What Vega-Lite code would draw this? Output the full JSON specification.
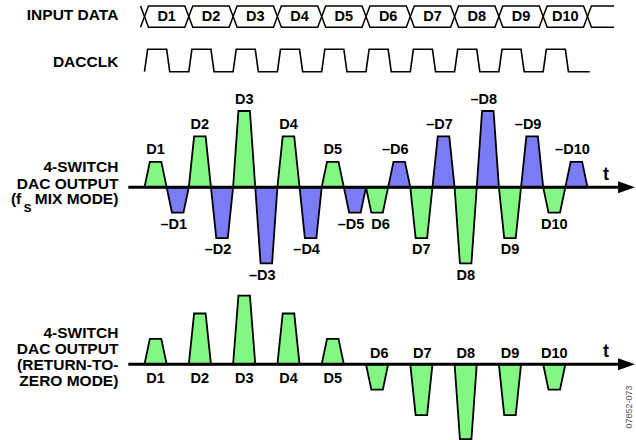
{
  "$schema": "https://vega.github.io/schema/vega-lite/v6.json",
  "width": 636,
  "height": 440,
  "autosize": {"type": "none"},
  "padding": 0,
  "background": "white",
  "config": {
    "view": {"stroke": null},
    "text": {"font": "Liberation Sans", "fontWeight": "bold", "fontSize": 14.5, "color": "black", "baseline": "middle"}
  },
  "datasets": {
    "bus": [
      {"id":"s","o":0,"t":-0.09,"v":1},{"id":"s","o":1,"t":0,"v":0.5},{"id":"s","o":2,"t":-0.09,"v":0},
      {"id":"D1","o":0,"t":0,"v":0.5},{"id":"D1","o":1,"t":0.09,"v":1},{"id":"D1","o":2,"t":0.91,"v":1},{"id":"D1","o":3,"t":1,"v":0.5},{"id":"D1","o":4,"t":0.91,"v":0},{"id":"D1","o":5,"t":0.09,"v":0},{"id":"D1","o":6,"t":0,"v":0.5},
      {"id":"D2","o":0,"t":1,"v":0.5},{"id":"D2","o":1,"t":1.09,"v":1},{"id":"D2","o":2,"t":1.91,"v":1},{"id":"D2","o":3,"t":2,"v":0.5},{"id":"D2","o":4,"t":1.91,"v":0},{"id":"D2","o":5,"t":1.09,"v":0},{"id":"D2","o":6,"t":1,"v":0.5},
      {"id":"D3","o":0,"t":2,"v":0.5},{"id":"D3","o":1,"t":2.09,"v":1},{"id":"D3","o":2,"t":2.91,"v":1},{"id":"D3","o":3,"t":3,"v":0.5},{"id":"D3","o":4,"t":2.91,"v":0},{"id":"D3","o":5,"t":2.09,"v":0},{"id":"D3","o":6,"t":2,"v":0.5},
      {"id":"D4","o":0,"t":3,"v":0.5},{"id":"D4","o":1,"t":3.09,"v":1},{"id":"D4","o":2,"t":3.91,"v":1},{"id":"D4","o":3,"t":4,"v":0.5},{"id":"D4","o":4,"t":3.91,"v":0},{"id":"D4","o":5,"t":3.09,"v":0},{"id":"D4","o":6,"t":3,"v":0.5},
      {"id":"D5","o":0,"t":4,"v":0.5},{"id":"D5","o":1,"t":4.09,"v":1},{"id":"D5","o":2,"t":4.91,"v":1},{"id":"D5","o":3,"t":5,"v":0.5},{"id":"D5","o":4,"t":4.91,"v":0},{"id":"D5","o":5,"t":4.09,"v":0},{"id":"D5","o":6,"t":4,"v":0.5},
      {"id":"D6","o":0,"t":5,"v":0.5},{"id":"D6","o":1,"t":5.09,"v":1},{"id":"D6","o":2,"t":5.91,"v":1},{"id":"D6","o":3,"t":6,"v":0.5},{"id":"D6","o":4,"t":5.91,"v":0},{"id":"D6","o":5,"t":5.09,"v":0},{"id":"D6","o":6,"t":5,"v":0.5},
      {"id":"D7","o":0,"t":6,"v":0.5},{"id":"D7","o":1,"t":6.09,"v":1},{"id":"D7","o":2,"t":6.91,"v":1},{"id":"D7","o":3,"t":7,"v":0.5},{"id":"D7","o":4,"t":6.91,"v":0},{"id":"D7","o":5,"t":6.09,"v":0},{"id":"D7","o":6,"t":6,"v":0.5},
      {"id":"D8","o":0,"t":7,"v":0.5},{"id":"D8","o":1,"t":7.09,"v":1},{"id":"D8","o":2,"t":7.91,"v":1},{"id":"D8","o":3,"t":8,"v":0.5},{"id":"D8","o":4,"t":7.91,"v":0},{"id":"D8","o":5,"t":7.09,"v":0},{"id":"D8","o":6,"t":7,"v":0.5},
      {"id":"D9","o":0,"t":8,"v":0.5},{"id":"D9","o":1,"t":8.09,"v":1},{"id":"D9","o":2,"t":8.91,"v":1},{"id":"D9","o":3,"t":9,"v":0.5},{"id":"D9","o":4,"t":8.91,"v":0},{"id":"D9","o":5,"t":8.09,"v":0},{"id":"D9","o":6,"t":8,"v":0.5},
      {"id":"D10","o":0,"t":9,"v":0.5},{"id":"D10","o":1,"t":9.09,"v":1},{"id":"D10","o":2,"t":9.91,"v":1},{"id":"D10","o":3,"t":10,"v":0.5},{"id":"D10","o":4,"t":9.91,"v":0},{"id":"D10","o":5,"t":9.09,"v":0},{"id":"D10","o":6,"t":9,"v":0.5},
      {"id":"e","o":0,"t":10.6,"v":1},{"id":"e","o":1,"t":10.09,"v":1},{"id":"e","o":2,"t":10,"v":0.5},{"id":"e","o":3,"t":10.09,"v":0},{"id":"e","o":4,"t":10.6,"v":0}
    ],
    "busLab": [
      {"t":0.5,"v":0.5,"label":"D1"},{"t":1.5,"v":0.5,"label":"D2"},{"t":2.5,"v":0.5,"label":"D3"},{"t":3.5,"v":0.5,"label":"D4"},{"t":4.5,"v":0.5,"label":"D5"},
      {"t":5.5,"v":0.5,"label":"D6"},{"t":6.5,"v":0.5,"label":"D7"},{"t":7.5,"v":0.5,"label":"D8"},{"t":8.5,"v":0.5,"label":"D9"},{"t":9.5,"v":0.5,"label":"D10"}
    ],
    "clock": [
      {"t":0,"v":0},{"t":0.07,"v":1},{"t":0.5,"v":1},{"t":0.57,"v":0},
      {"t":1,"v":0},{"t":1.07,"v":1},{"t":1.5,"v":1},{"t":1.57,"v":0},
      {"t":2,"v":0},{"t":2.07,"v":1},{"t":2.5,"v":1},{"t":2.57,"v":0},
      {"t":3,"v":0},{"t":3.07,"v":1},{"t":3.5,"v":1},{"t":3.57,"v":0},
      {"t":4,"v":0},{"t":4.07,"v":1},{"t":4.5,"v":1},{"t":4.57,"v":0},
      {"t":5,"v":0},{"t":5.07,"v":1},{"t":5.5,"v":1},{"t":5.57,"v":0},
      {"t":6,"v":0},{"t":6.07,"v":1},{"t":6.5,"v":1},{"t":6.57,"v":0},
      {"t":7,"v":0},{"t":7.07,"v":1},{"t":7.5,"v":1},{"t":7.57,"v":0},
      {"t":8,"v":0},{"t":8.07,"v":1},{"t":8.5,"v":1},{"t":8.57,"v":0},
      {"t":9,"v":0},{"t":9.07,"v":1},{"t":9.5,"v":1},{"t":9.57,"v":0},
      {"t":10.05,"v":0}
    ],
    "mix": [
      {"id":"g1","ph":"p","t":0,"v":0},{"id":"g1","ph":"p","t":0.12,"v":1},{"id":"g1","ph":"p","t":0.38,"v":1},{"id":"g1","ph":"p","t":0.5,"v":0},
      {"id":"b1","ph":"n","t":0.5,"v":0},{"id":"b1","ph":"n","t":0.62,"v":-1},{"id":"b1","ph":"n","t":0.88,"v":-1},{"id":"b1","ph":"n","t":1,"v":0},
      {"id":"g2","ph":"p","t":1,"v":0},{"id":"g2","ph":"p","t":1.12,"v":2},{"id":"g2","ph":"p","t":1.38,"v":2},{"id":"g2","ph":"p","t":1.5,"v":0},
      {"id":"b2","ph":"n","t":1.5,"v":0},{"id":"b2","ph":"n","t":1.62,"v":-2},{"id":"b2","ph":"n","t":1.88,"v":-2},{"id":"b2","ph":"n","t":2,"v":0},
      {"id":"g3","ph":"p","t":2,"v":0},{"id":"g3","ph":"p","t":2.12,"v":3},{"id":"g3","ph":"p","t":2.38,"v":3},{"id":"g3","ph":"p","t":2.5,"v":0},
      {"id":"b3","ph":"n","t":2.5,"v":0},{"id":"b3","ph":"n","t":2.62,"v":-3},{"id":"b3","ph":"n","t":2.88,"v":-3},{"id":"b3","ph":"n","t":3,"v":0},
      {"id":"g4","ph":"p","t":3,"v":0},{"id":"g4","ph":"p","t":3.12,"v":2},{"id":"g4","ph":"p","t":3.38,"v":2},{"id":"g4","ph":"p","t":3.5,"v":0},
      {"id":"b4","ph":"n","t":3.5,"v":0},{"id":"b4","ph":"n","t":3.62,"v":-2},{"id":"b4","ph":"n","t":3.88,"v":-2},{"id":"b4","ph":"n","t":4,"v":0},
      {"id":"g5","ph":"p","t":4,"v":0},{"id":"g5","ph":"p","t":4.12,"v":1},{"id":"g5","ph":"p","t":4.38,"v":1},{"id":"g5","ph":"p","t":4.5,"v":0},
      {"id":"b5","ph":"n","t":4.5,"v":0},{"id":"b5","ph":"n","t":4.62,"v":-1},{"id":"b5","ph":"n","t":4.88,"v":-1},{"id":"b5","ph":"n","t":5,"v":0},
      {"id":"g6","ph":"p","t":5,"v":0},{"id":"g6","ph":"p","t":5.12,"v":-1},{"id":"g6","ph":"p","t":5.38,"v":-1},{"id":"g6","ph":"p","t":5.5,"v":0},
      {"id":"b6","ph":"n","t":5.5,"v":0},{"id":"b6","ph":"n","t":5.62,"v":1},{"id":"b6","ph":"n","t":5.88,"v":1},{"id":"b6","ph":"n","t":6,"v":0},
      {"id":"g7","ph":"p","t":6,"v":0},{"id":"g7","ph":"p","t":6.12,"v":-2},{"id":"g7","ph":"p","t":6.38,"v":-2},{"id":"g7","ph":"p","t":6.5,"v":0},
      {"id":"b7","ph":"n","t":6.5,"v":0},{"id":"b7","ph":"n","t":6.62,"v":2},{"id":"b7","ph":"n","t":6.88,"v":2},{"id":"b7","ph":"n","t":7,"v":0},
      {"id":"g8","ph":"p","t":7,"v":0},{"id":"g8","ph":"p","t":7.12,"v":-3},{"id":"g8","ph":"p","t":7.38,"v":-3},{"id":"g8","ph":"p","t":7.5,"v":0},
      {"id":"b8","ph":"n","t":7.5,"v":0},{"id":"b8","ph":"n","t":7.62,"v":3},{"id":"b8","ph":"n","t":7.88,"v":3},{"id":"b8","ph":"n","t":8,"v":0},
      {"id":"g9","ph":"p","t":8,"v":0},{"id":"g9","ph":"p","t":8.12,"v":-2},{"id":"g9","ph":"p","t":8.38,"v":-2},{"id":"g9","ph":"p","t":8.5,"v":0},
      {"id":"b9","ph":"n","t":8.5,"v":0},{"id":"b9","ph":"n","t":8.62,"v":2},{"id":"b9","ph":"n","t":8.88,"v":2},{"id":"b9","ph":"n","t":9,"v":0},
      {"id":"g10","ph":"p","t":9,"v":0},{"id":"g10","ph":"p","t":9.12,"v":-1},{"id":"g10","ph":"p","t":9.38,"v":-1},{"id":"g10","ph":"p","t":9.5,"v":0},
      {"id":"b10","ph":"n","t":9.5,"v":0},{"id":"b10","ph":"n","t":9.62,"v":1},{"id":"b10","ph":"n","t":9.88,"v":1},{"id":"b10","ph":"n","t":10,"v":0}
    ],
    "mixLab": [
      {"kind":"p","t":0.25,"v":1.45,"label":"D1"},{"kind":"p","t":1.25,"v":2.45,"label":"D2"},{"kind":"p","t":2.25,"v":3.45,"label":"D3"},{"kind":"p","t":3.25,"v":2.45,"label":"D4"},{"kind":"p","t":4.25,"v":1.45,"label":"D5"},
      {"kind":"p","t":5.33,"v":-1.49,"label":"D6"},{"kind":"p","t":6.25,"v":-2.49,"label":"D7"},{"kind":"p","t":7.25,"v":-3.49,"label":"D8"},{"kind":"p","t":8.25,"v":-2.49,"label":"D9"},{"kind":"p","t":9.25,"v":-1.49,"label":"D10"},
      {"kind":"d","t":0.75,"v":-1.49,"label":"–D1"},{"kind":"d","t":1.75,"v":-2.49,"label":"–D2"},{"kind":"d","t":2.75,"v":-3.49,"label":"–D3"},{"kind":"d","t":3.75,"v":-2.49,"label":"–D4"},{"kind":"d","t":4.75,"v":-1.49,"label":"–D5"},
      {"kind":"d","t":5.75,"v":1.45,"label":"–D6"},{"kind":"d","t":6.75,"v":2.45,"label":"–D7"},{"kind":"d","t":7.75,"v":3.45,"label":"–D8"},{"kind":"d","t":8.75,"v":2.45,"label":"–D9"},{"kind":"d","t":9.75,"v":1.45,"label":"–D10"}
    ],
    "rtz": [
      {"id":"r1","t":0,"v":0},{"id":"r1","t":0.12,"v":1},{"id":"r1","t":0.38,"v":1},{"id":"r1","t":0.5,"v":0},
      {"id":"r2","t":1,"v":0},{"id":"r2","t":1.12,"v":2},{"id":"r2","t":1.38,"v":2},{"id":"r2","t":1.5,"v":0},
      {"id":"r3","t":2,"v":0},{"id":"r3","t":2.12,"v":2.7},{"id":"r3","t":2.38,"v":2.7},{"id":"r3","t":2.5,"v":0},
      {"id":"r4","t":3,"v":0},{"id":"r4","t":3.12,"v":2},{"id":"r4","t":3.38,"v":2},{"id":"r4","t":3.5,"v":0},
      {"id":"r5","t":4,"v":0},{"id":"r5","t":4.12,"v":1},{"id":"r5","t":4.38,"v":1},{"id":"r5","t":4.5,"v":0},
      {"id":"r6","t":5,"v":0},{"id":"r6","t":5.12,"v":-1},{"id":"r6","t":5.38,"v":-1},{"id":"r6","t":5.5,"v":0},
      {"id":"r7","t":6,"v":0},{"id":"r7","t":6.12,"v":-2},{"id":"r7","t":6.38,"v":-2},{"id":"r7","t":6.5,"v":0},
      {"id":"r8","t":7,"v":0},{"id":"r8","t":7.12,"v":-2.95},{"id":"r8","t":7.38,"v":-2.95},{"id":"r8","t":7.5,"v":0},
      {"id":"r9","t":8,"v":0},{"id":"r9","t":8.12,"v":-2},{"id":"r9","t":8.38,"v":-2},{"id":"r9","t":8.5,"v":0},
      {"id":"r10","t":9,"v":0},{"id":"r10","t":9.12,"v":-1},{"id":"r10","t":9.38,"v":-1},{"id":"r10","t":9.5,"v":0}
    ],
    "rtzLab": [
      {"t":0.25,"v":-0.59,"label":"D1"},{"t":1.25,"v":-0.59,"label":"D2"},{"t":2.25,"v":-0.59,"label":"D3"},{"t":3.25,"v":-0.59,"label":"D4"},{"t":4.25,"v":-0.59,"label":"D5"},
      {"t":5.3,"v":0.4,"label":"D6"},{"t":6.27,"v":0.4,"label":"D7"},{"t":7.25,"v":0.4,"label":"D8"},{"t":8.25,"v":0.4,"label":"D9"},{"t":9.25,"v":0.4,"label":"D10"}
    ],
    "baseLine": [{"t":-0.366,"v":0},{"t":10.7,"v":0}],
    "arrow": [{"t":10.69,"hi":0.236,"lo":-0.236},{"t":11.07,"hi":0,"lo":0}],
    "tLab": [{"t":10.42,"v":0.5,"label":"t"}],
    "titles": [
      {"row":"bus","t":-0.59,"v":0.58,"label":"INPUT DATA"},
      {"row":"clock","t":-0.59,"v":0.45,"label":"DACCLK"},
      {"row":"mix","t":-0.59,"v":0.78,"label":"4-SWITCH"},
      {"row":"mix","t":-0.59,"v":0.13,"label":"DAC OUTPUT"},
      {"row":"mix","t":-0.59,"v":-0.48,"label":"MIX MODE)"},
      {"row":"rtz","t":-0.59,"v":1.24,"label":"4-SWITCH"},
      {"row":"rtz","t":-0.59,"v":0.62,"label":"DAC OUTPUT"},
      {"row":"rtz","t":-0.59,"v":-0.01,"label":"(RETURN-TO-"},
      {"row":"rtz","t":-0.59,"v":-0.66,"label":"ZERO MODE)"}
    ],
    "fs": [
      {"part":"f","t":-2.9,"v":-0.48,"label":"(f"},
      {"part":"s","t":-2.641,"v":-0.845,"label":"S"}
    ],
    "code": [{"t":10.93,"v":-1.68,"label":"07852-073"}]
  },
  "resolve": {"scale": {"y": "independent"}},
  "layer": [
    {
      "layer": [
        {
          "data": {"name": "bus"},
          "mark": {"type": "line", "color": "black", "strokeWidth": 1.5},
          "encoding": {
            "x": {"field": "t", "type": "quantitative", "scale": {"domain": [-3.262, 11.095], "nice": false, "zero": false}, "axis": null},
            "y": {"field": "v", "type": "quantitative", "scale": {"domain": [-19.38, 1.28], "nice": false, "zero": false}, "axis": null},
            "detail": {"field": "id"},
            "order": {"field": "o"}
          }
        },
        {
          "data": {"name": "busLab"},
          "mark": {"type": "text", "align": "center"},
          "encoding": {
            "x": {"field": "t", "type": "quantitative", "scale": {"domain": [-3.262, 11.095], "nice": false, "zero": false}, "axis": null},
            "y": {"field": "v", "type": "quantitative", "scale": {"domain": [-19.38, 1.28], "nice": false, "zero": false}, "axis": null},
            "text": {"field": "label"}
          }
        },
        {
          "data": {"name": "titles"},
          "transform": [{"filter": "datum.row === 'bus'"}],
          "mark": {"type": "text", "align": "right", "fontSize": 15.5},
          "encoding": {
            "x": {"field": "t", "type": "quantitative", "scale": {"domain": [-3.262, 11.095], "nice": false, "zero": false}, "axis": null},
            "y": {"field": "v", "type": "quantitative", "scale": {"domain": [-19.38, 1.28], "nice": false, "zero": false}, "axis": null},
            "text": {"field": "label"}
          }
        }
      ]
    },
    {
      "layer": [
        {
          "data": {"name": "clock"},
          "mark": {"type": "line", "color": "black", "strokeWidth": 1.6},
          "encoding": {
            "x": {"field": "t", "type": "quantitative", "scale": {"domain": [-3.262, 11.095], "nice": false, "zero": false}, "axis": null},
            "y": {"field": "v", "type": "quantitative", "scale": {"domain": [-16.44, 3.2], "nice": false, "zero": false}, "axis": null}
          }
        },
        {
          "data": {"name": "titles"},
          "transform": [{"filter": "datum.row === 'clock'"}],
          "mark": {"type": "text", "align": "right", "fontSize": 15.5},
          "encoding": {
            "x": {"field": "t", "type": "quantitative", "scale": {"domain": [-3.262, 11.095], "nice": false, "zero": false}, "axis": null},
            "y": {"field": "v", "type": "quantitative", "scale": {"domain": [-16.44, 3.2], "nice": false, "zero": false}, "axis": null},
            "text": {"field": "label"}
          }
        }
      ]
    },
    {
      "layer": [
        {
          "data": {"name": "mix"},
          "mark": {"type": "area", "stroke": "black", "strokeWidth": 1.8, "fillOpacity": 1, "strokeJoin": "miter"},
          "encoding": {
            "x": {"field": "t", "type": "quantitative", "scale": {"domain": [-3.262, 11.095], "nice": false, "zero": false}, "axis": null},
            "y": {"field": "v", "type": "quantitative", "stack": null, "scale": {"domain": [-9.95, 7.37], "nice": false, "zero": false}, "axis": null},
            "y2": {"datum": 0},
            "detail": {"field": "id"},
            "fill": {"field": "ph", "type": "nominal", "scale": {"domain": ["p", "n"], "range": ["#82f882", "#7b7bf6"]}, "legend": null}
          }
        },
        {
          "data": {"name": "baseLine"},
          "mark": {"type": "line", "color": "black", "strokeWidth": 3},
          "encoding": {
            "x": {"field": "t", "type": "quantitative", "scale": {"domain": [-3.262, 11.095], "nice": false, "zero": false}, "axis": null},
            "y": {"field": "v", "type": "quantitative", "scale": {"domain": [-9.95, 7.37], "nice": false, "zero": false}, "axis": null}
          }
        },
        {
          "data": {"name": "arrow"},
          "mark": {"type": "area", "color": "black", "fillOpacity": 1},
          "encoding": {
            "x": {"field": "t", "type": "quantitative", "scale": {"domain": [-3.262, 11.095], "nice": false, "zero": false}, "axis": null},
            "y": {"field": "hi", "type": "quantitative", "stack": null, "scale": {"domain": [-9.95, 7.37], "nice": false, "zero": false}, "axis": null},
            "y2": {"field": "lo"}
          }
        },
        {
          "data": {"name": "mixLab"},
          "transform": [{"filter": "datum.kind === 'p'"}],
          "mark": {"type": "text", "align": "center"},
          "encoding": {
            "x": {"field": "t", "type": "quantitative", "scale": {"domain": [-3.262, 11.095], "nice": false, "zero": false}, "axis": null},
            "y": {"field": "v", "type": "quantitative", "scale": {"domain": [-9.95, 7.37], "nice": false, "zero": false}, "axis": null},
            "text": {"field": "label"}
          }
        },
        {
          "data": {"name": "mixLab"},
          "transform": [{"filter": "datum.kind === 'd'"}],
          "mark": {"type": "text", "align": "center", "dx": -4},
          "encoding": {
            "x": {"field": "t", "type": "quantitative", "scale": {"domain": [-3.262, 11.095], "nice": false, "zero": false}, "axis": null},
            "y": {"field": "v", "type": "quantitative", "scale": {"domain": [-9.95, 7.37], "nice": false, "zero": false}, "axis": null},
            "text": {"field": "label"}
          }
        },
        {
          "data": {"name": "titles"},
          "transform": [{"filter": "datum.row === 'mix'"}],
          "mark": {"type": "text", "align": "right", "fontSize": 15.5},
          "encoding": {
            "x": {"field": "t", "type": "quantitative", "scale": {"domain": [-3.262, 11.095], "nice": false, "zero": false}, "axis": null},
            "y": {"field": "v", "type": "quantitative", "scale": {"domain": [-9.95, 7.37], "nice": false, "zero": false}, "axis": null},
            "text": {"field": "label"}
          }
        },
        {
          "data": {"name": "fs"},
          "transform": [{"filter": "datum.part === 'f'"}],
          "mark": {"type": "text", "align": "center", "fontSize": 15.5},
          "encoding": {
            "x": {"field": "t", "type": "quantitative", "scale": {"domain": [-3.262, 11.095], "nice": false, "zero": false}, "axis": null},
            "y": {"field": "v", "type": "quantitative", "scale": {"domain": [-9.95, 7.37], "nice": false, "zero": false}, "axis": null},
            "text": {"field": "label"}
          }
        },
        {
          "data": {"name": "fs"},
          "transform": [{"filter": "datum.part === 's'"}],
          "mark": {"type": "text", "align": "center", "fontSize": 11.5},
          "encoding": {
            "x": {"field": "t", "type": "quantitative", "scale": {"domain": [-3.262, 11.095], "nice": false, "zero": false}, "axis": null},
            "y": {"field": "v", "type": "quantitative", "scale": {"domain": [-9.95, 7.37], "nice": false, "zero": false}, "axis": null},
            "text": {"field": "label"}
          }
        },
        {
          "data": {"name": "tLab"},
          "mark": {"type": "text", "align": "center", "fontSize": 18},
          "encoding": {
            "x": {"field": "t", "type": "quantitative", "scale": {"domain": [-3.262, 11.095], "nice": false, "zero": false}, "axis": null},
            "y": {"field": "v", "type": "quantitative", "scale": {"domain": [-9.95, 7.37], "nice": false, "zero": false}, "axis": null},
            "text": {"field": "label"}
          }
        }
      ]
    },
    {
      "layer": [
        {
          "data": {"name": "rtz"},
          "mark": {"type": "area", "stroke": "black", "strokeWidth": 1.8, "fill": "#82f882", "fillOpacity": 1, "strokeJoin": "miter"},
          "encoding": {
            "x": {"field": "t", "type": "quantitative", "scale": {"domain": [-3.262, 11.095], "nice": false, "zero": false}, "axis": null},
            "y": {"field": "v", "type": "quantitative", "stack": null, "scale": {"domain": [-2.98, 14.34], "nice": false, "zero": false}, "axis": null},
            "y2": {"datum": 0},
            "detail": {"field": "id"}
          }
        },
        {
          "data": {"name": "baseLine"},
          "mark": {"type": "line", "color": "black", "strokeWidth": 3},
          "encoding": {
            "x": {"field": "t", "type": "quantitative", "scale": {"domain": [-3.262, 11.095], "nice": false, "zero": false}, "axis": null},
            "y": {"field": "v", "type": "quantitative", "scale": {"domain": [-2.98, 14.34], "nice": false, "zero": false}, "axis": null}
          }
        },
        {
          "data": {"name": "arrow"},
          "mark": {"type": "area", "color": "black", "fillOpacity": 1},
          "encoding": {
            "x": {"field": "t", "type": "quantitative", "scale": {"domain": [-3.262, 11.095], "nice": false, "zero": false}, "axis": null},
            "y": {"field": "hi", "type": "quantitative", "stack": null, "scale": {"domain": [-2.98, 14.34], "nice": false, "zero": false}, "axis": null},
            "y2": {"field": "lo"}
          }
        },
        {
          "data": {"name": "rtzLab"},
          "mark": {"type": "text", "align": "center"},
          "encoding": {
            "x": {"field": "t", "type": "quantitative", "scale": {"domain": [-3.262, 11.095], "nice": false, "zero": false}, "axis": null},
            "y": {"field": "v", "type": "quantitative", "scale": {"domain": [-2.98, 14.34], "nice": false, "zero": false}, "axis": null},
            "text": {"field": "label"}
          }
        },
        {
          "data": {"name": "titles"},
          "transform": [{"filter": "datum.row === 'rtz'"}],
          "mark": {"type": "text", "align": "right", "fontSize": 15.5},
          "encoding": {
            "x": {"field": "t", "type": "quantitative", "scale": {"domain": [-3.262, 11.095], "nice": false, "zero": false}, "axis": null},
            "y": {"field": "v", "type": "quantitative", "scale": {"domain": [-2.98, 14.34], "nice": false, "zero": false}, "axis": null},
            "text": {"field": "label"}
          }
        },
        {
          "data": {"name": "tLab"},
          "mark": {"type": "text", "align": "center", "fontSize": 18},
          "encoding": {
            "x": {"field": "t", "type": "quantitative", "scale": {"domain": [-3.262, 11.095], "nice": false, "zero": false}, "axis": null},
            "y": {"field": "v", "type": "quantitative", "scale": {"domain": [-2.98, 14.34], "nice": false, "zero": false}, "axis": null},
            "text": {"field": "label"}
          }
        },
        {
          "data": {"name": "code"},
          "mark": {"type": "text", "align": "center", "angle": 270, "fontSize": 9, "fontWeight": "normal", "color": "#555555"},
          "encoding": {
            "x": {"field": "t", "type": "quantitative", "scale": {"domain": [-3.262, 11.095], "nice": false, "zero": false}, "axis": null},
            "y": {"field": "v", "type": "quantitative", "scale": {"domain": [-2.98, 14.34], "nice": false, "zero": false}, "axis": null},
            "text": {"field": "label"}
          }
        }
      ]
    }
  ]
}
